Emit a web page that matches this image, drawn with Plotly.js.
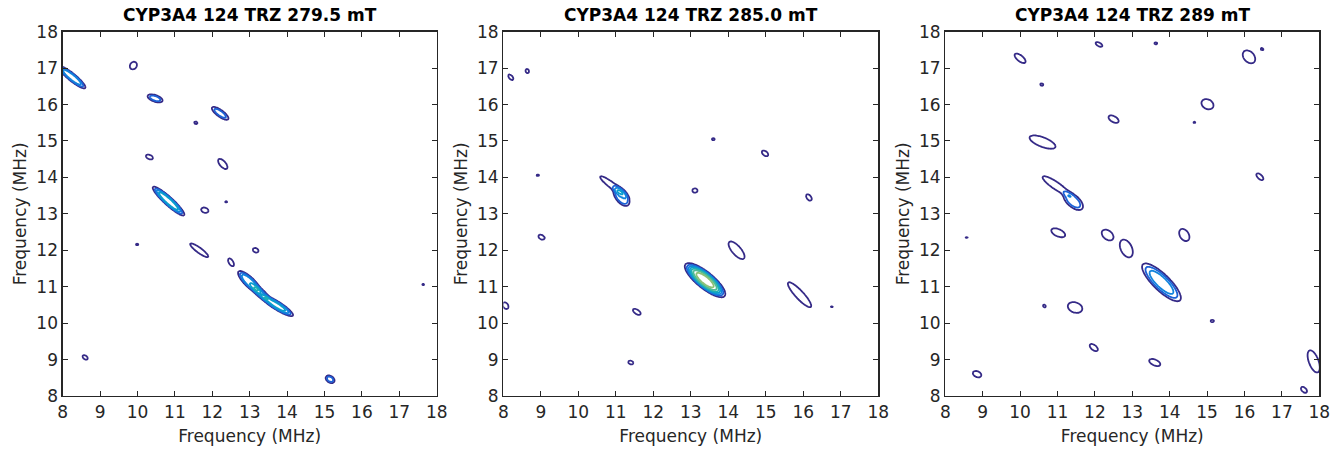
<!DOCTYPE html>
<html>
<head>
<meta charset="utf-8">
<script src="https://cdn.plot.ly/plotly-3.0.1.min.js"></script>
<style>html,body{margin:0;padding:0;background:#fff;}#chart{width:1333px;height:450px;}</style>
</head>
<body>
<div id="chart"></div>
<script>
// Panel titles
const titles = ["CYP3A4 124 TRZ 279.5 mT", "CYP3A4 124 TRZ 285.0 mT", "CYP3A4 124 TRZ 289 mT"];
const axisLabel = "Frequency (MHz)";
const tickVals = [8, 9, 10, 11, 12, 13, 14, 15, 16, 17, 18];

// Peaks: centre (MHz), height (contour levels), semi-axes of outer contour (MHz), tilt (deg)
// Panel 1 — 279.5 mT
const p1x   = [8.25, 9.89, 10.47, 12.21, 11.56, 10.32, 12.28, 10.83, 12.37, 11.80, 9.99, 11.65, 13.16, 12.50, 13.00, 13.30, 13.72, 17.64, 8.60, 15.15];
const p1y   = [16.75, 17.07, 16.17, 15.76, 15.50, 14.56, 14.37, 13.35, 13.33, 13.10, 12.16, 12.00, 12.00, 11.67, 11.12, 10.82, 10.49, 11.06, 9.06, 8.46];
const p1amp = [4, 1.3, 2.5, 2.5, 1.3, 1.3, 1.3, 5, 1.2, 1.3, 1.2, 1.3, 1.3, 1.3, 4, 2.5, 4.5, 1.2, 1.5, 2.5];
const p1a   = [0.46, 0.11, 0.21, 0.27, 0.045, 0.10, 0.17, 0.57, 0.03, 0.10, 0.035, 0.30, 0.08, 0.12, 0.42, 0.26, 0.52, 0.03, 0.08, 0.13];
const p1b   = [0.10, 0.09, 0.09, 0.09, 0.035, 0.06, 0.08, 0.11, 0.02, 0.07, 0.025, 0.07, 0.06, 0.06, 0.13, 0.10, 0.11, 0.02, 0.05, 0.09];
const p1ang = [-40, 60, -20, -37, -30, -25, -50, -43, 0, -20, 0, -37, -30, -60, -45, -40, -33, 0, -40, -35];

// Panel 2 — 285.0 mT
const p2x   = [8.20, 8.64, 8.92, 9.02, 8.06, 10.90, 11.15, 13.60, 14.98, 13.11, 16.15, 14.22, 13.38, 15.90, 16.76, 11.56, 11.40];
const p2y   = [16.75, 16.92, 14.06, 12.36, 10.48, 13.78, 13.48, 15.05, 14.66, 13.64, 13.45, 12.00, 11.18, 10.78, 10.45, 10.31, 8.92];
const p2amp = [1.3, 1.3, 1.2, 1.3, 1.3, 1.6, 3, 1.2, 1.3, 1.3, 1.3, 1.3, 7.5, 1.3, 1.2, 1.3, 1.3];
const p2a   = [0.09, 0.06, 0.035, 0.09, 0.10, 0.40, 0.30, 0.04, 0.10, 0.07, 0.10, 0.30, 0.68, 0.45, 0.03, 0.12, 0.07];
const p2b   = [0.05, 0.045, 0.025, 0.06, 0.07, 0.08, 0.16, 0.03, 0.06, 0.06, 0.06, 0.12, 0.22, 0.11, 0.02, 0.06, 0.05];
const p2ang = [-50, -70, 0, -30, -60, -38, -55, 0, -40, 0, -55, -50, -40, -48, 0, -35, -20];

// Panel 3 — 289 mT
const p3x   = [10.00, 12.11, 13.63, 16.12, 16.47, 10.58, 15.01, 12.50, 14.66, 10.60, 10.95, 11.42, 16.41, 11.02, 12.34, 14.39, 12.84, 8.57, 13.78, 10.65, 11.47, 15.14, 11.97, 13.60, 8.85, 17.85, 17.59];
const p3y   = [17.27, 17.65, 17.68, 17.31, 17.52, 16.55, 16.01, 15.60, 15.51, 14.97, 13.78, 13.35, 14.02, 12.48, 12.42, 12.42, 12.05, 12.35, 11.12, 10.47, 10.43, 10.06, 9.33, 8.92, 8.60, 8.95, 8.17];
const p3amp = [1.3, 1.3, 1.2, 1.3, 1.2, 1.2, 1.3, 1.3, 1.2, 1.3, 1.6, 2.6, 1.3, 1.3, 1.3, 1.3, 1.3, 1.2, 3.6, 1.2, 1.3, 1.2, 1.3, 1.3, 1.3, 1.3, 1.3];
const p3a   = [0.18, 0.10, 0.04, 0.20, 0.04, 0.045, 0.17, 0.15, 0.03, 0.37, 0.42, 0.32, 0.12, 0.20, 0.18, 0.18, 0.26, 0.03, 0.70, 0.045, 0.20, 0.045, 0.13, 0.16, 0.12, 0.32, 0.10];
const p3b   = [0.08, 0.05, 0.03, 0.14, 0.03, 0.035, 0.13, 0.08, 0.02, 0.13, 0.10, 0.16, 0.06, 0.10, 0.12, 0.12, 0.15, 0.02, 0.22, 0.035, 0.14, 0.035, 0.07, 0.08, 0.08, 0.13, 0.06];
const p3ang = [-40, -30, 0, -50, -30, -30, -30, -30, 0, -22, -35, -42, -45, -25, -40, -60, -65, 0, -45, -50, -20, 0, -40, -25, -25, -70, -45];

// parula-like colour map for the contour levels
const parula = [
  [0.0, 'rgb(53,42,135)'], [0.1, 'rgb(28,98,214)'], [0.2, 'rgb(18,132,220)'],
  [0.3, 'rgb(10,158,205)'], [0.4, 'rgb(30,176,180)'], [0.5, 'rgb(80,188,150)'],
  [0.6, 'rgb(140,193,118)'], [0.7, 'rgb(192,189,97)'], [0.8, 'rgb(233,185,78)'],
  [0.9, 'rgb(250,210,44)'], [1.0, 'rgb(249,251,14)']
];

// sampling grid (MHz)
const grid = [];
for (let k = 0; k <= 440; k++) grid.push(+(7.5 + k * 0.025).toFixed(3));

function buildField(px, py, amp, a, b, ang) {
  const n = grid.length;
  const z = [];
  for (let i = 0; i < n; i++) z.push(new Array(n).fill(0));
  for (let p = 0; p < px.length; p++) {
    const th = ang[p] * Math.PI / 180, c = Math.cos(th), s = Math.sin(th);
    const L = Math.log(amp[p]);
    const R = Math.max(a[p], b[p]) * 1.55;
    for (let i = 0; i < n; i++) {
      const dy = grid[i] - py[p];
      if (Math.abs(dy) > R) continue;
      for (let j = 0; j < n; j++) {
        const dx = grid[j] - px[p];
        if (Math.abs(dx) > R) continue;
        const u = (dx * c + dy * s) / a[p];
        const v = (-dx * s + dy * c) / b[p];
        const r2 = u * u + v * v;
        if (r2 > 2.3) continue;
        z[i][j] += amp[p] * Math.exp(-L * r2 * r2);
      }
    }
  }
  return z;
}

const fields = [
  buildField(p1x, p1y, p1amp, p1a, p1b, p1ang),
  buildField(p2x, p2y, p2amp, p2a, p2b, p2ang),
  buildField(p3x, p3y, p3amp, p3a, p3b, p3ang)
];

const axSuffix = ['', '2', '3'];
const traces = fields.map((z, k) => ({
  type: 'contour', x: grid, y: grid, z: z,
  xaxis: 'x' + axSuffix[k], yaxis: 'y' + axSuffix[k],
  autocontour: false,
  contours: {start: 1, end: 11, size: 1, coloring: 'lines'},
  line: {width: 1.8, smoothing: 1},
  colorscale: parula, showscale: false, hoverinfo: 'skip'
}));

const W = 1333, H = 450;
const xDom = [[62.7, 436.7], [503.3, 878.3], [945.3, 1319.3]].map(d => [d[0] / W, d[1] / W]);
const yDom = [1 - 396 / H, 1 - 31.7 / H];
const txtColor = '#262626';
const font = 'DejaVu Sans, Arial, sans-serif';

function axis(k, isX) {
  return {
    domain: isX ? xDom[k] : yDom,
    anchor: (isX ? 'y' : 'x') + axSuffix[k],
    range: [8, 18], tickvals: tickVals,
    ticks: 'inside', ticklen: 5, tickwidth: 1, tickcolor: txtColor,
    showline: true, linecolor: txtColor, linewidth: 1.3, mirror: 'ticks',
    showgrid: false, zeroline: false,
    tickfont: {family: font, size: 17, color: txtColor},
    title: {text: axisLabel, font: {family: font, size: 17, color: txtColor}, standoff: isX ? 9 : 5},
    fixedrange: true
  };
}

const layout = {
  width: W, height: H,
  margin: {l: 0, r: 0, t: 0, b: 0},
  paper_bgcolor: '#fff', plot_bgcolor: '#fff',
  showlegend: false,
  annotations: titles.map((t, k) => ({
    text: '<b>' + t + '</b>', xref: 'paper', yref: 'paper',
    x: (xDom[k][0] + xDom[k][1]) / 2, y: 1 - 15 / H,
    xanchor: 'center', yanchor: 'middle', showarrow: false,
    font: {family: font, size: 17, color: '#000'}
  }))
};
for (let k = 0; k < 3; k++) {
  layout['xaxis' + axSuffix[k]] = axis(k, true);
  layout['yaxis' + axSuffix[k]] = axis(k, false);
}

Plotly.newPlot('chart', traces, layout, {staticPlot: true, displayModeBar: false});
</script>
</body>
</html>
